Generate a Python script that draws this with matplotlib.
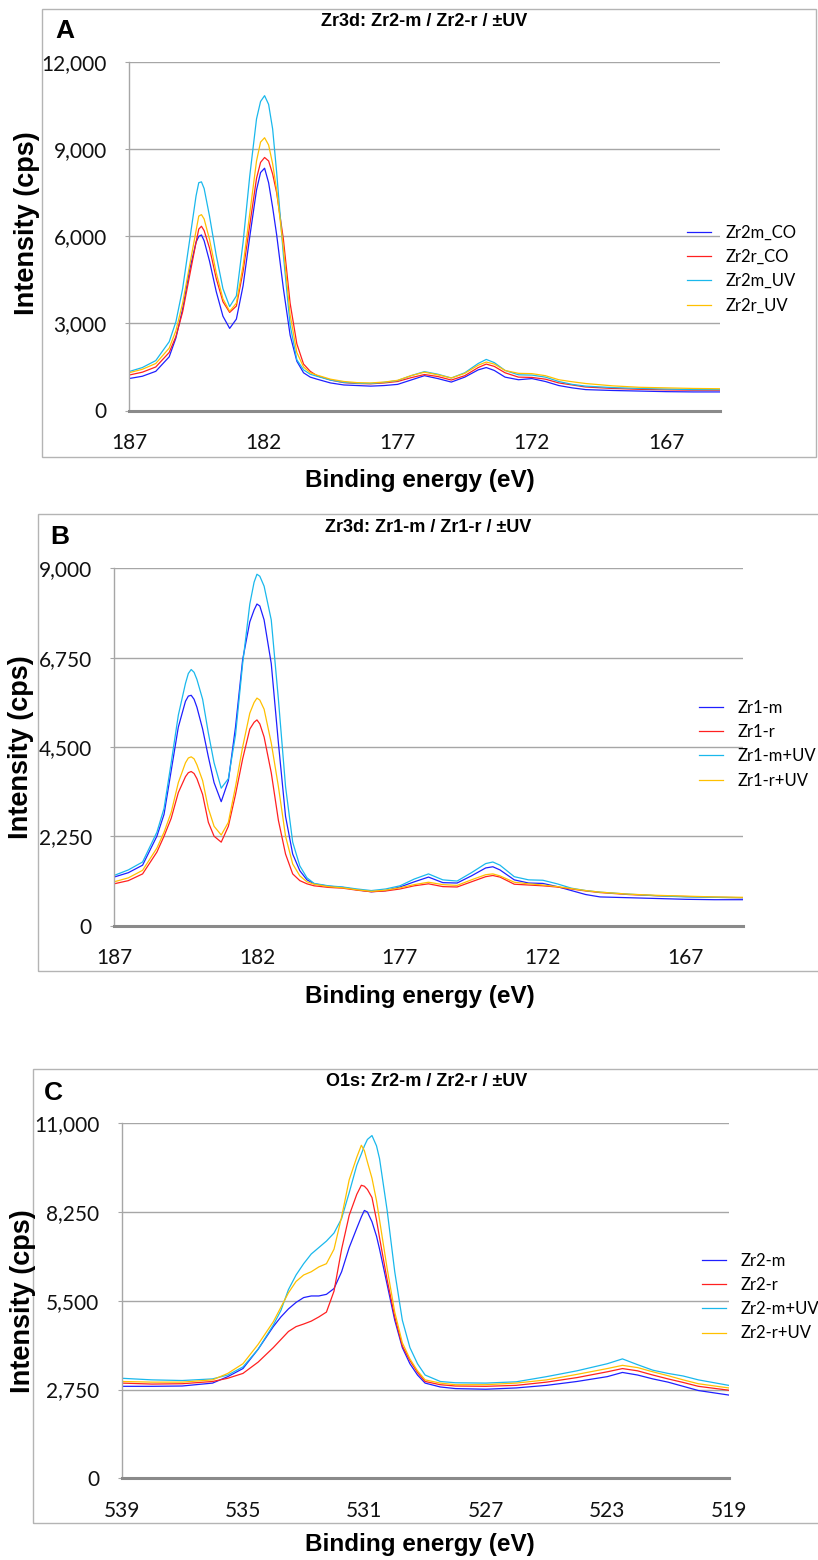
import matplotlib
matplotlib.use('Agg')
import matplotlib.pyplot as plt
from matplotlib import font_manager
from matplotlib.patches import Rectangle
from matplotlib.ticker import FuncFormatter

W, H = 818, 1560

names = {f.name for f in font_manager.fontManager.ttflist}
TICK_FONT = 'Lato' if 'Lato' in names else 'DejaVu Sans'
BOLD_FONT = 'Liberation Sans' if 'Liberation Sans' in names else 'DejaVu Sans'

BLUE = '#1f1fff'
RED = '#ff2020'
CYAN = '#1ab8ec'
YELLOW = '#ffc000'
GRID = '#a6a6a6'

# ── Panel A: Zr3d, Zr2-m / Zr2-r ──────────────────────────────────
energy_a = [187, 186.5, 186, 185.5, 185.25, 185, 184.75, 184.5, 184.4, 184.3, 184.2, 184,
            183.75, 183.5, 183.25, 183, 182.75, 182.5, 182.25, 182.1, 181.95, 181.8,
            181.65, 181.5, 181.25, 181, 180.75, 180.5, 180.25, 180, 179.5, 179, 178.5,
            178, 177.5, 177, 176.5, 176, 175.5, 175, 174.5, 174, 173.7, 173.4, 173,
            172.5, 172, 171.5, 171, 170.5, 170, 169, 168, 167, 166, 165]
zr2m_co = [1100, 1180, 1350, 1850, 2500, 3500, 4800, 5800, 6000, 6050, 5850, 5150,
           4100, 3250, 2830, 3150, 4300, 6000, 7600, 8200, 8350, 7850,
           7000, 6050, 4200, 2600, 1700, 1300, 1150, 1080, 950, 880, 860,
           840, 860, 900, 1050, 1200, 1100, 980, 1150, 1400, 1480, 1380, 1150,
           1060, 1100, 1000, 860, 780, 720, 690, 670, 650, 640, 640]
zr2r_co = [1220, 1320, 1500, 2000, 2550, 3400, 4600, 5800, 6250, 6350, 6200, 5600,
           4550, 3750, 3380, 3600, 4800, 6400, 8000, 8550, 8720, 8600,
           8150, 7500, 5900, 3700, 2300, 1600, 1350, 1200, 1050, 960, 930,
           920, 950, 1000, 1130, 1240, 1170, 1050, 1200, 1480, 1600, 1520, 1300,
           1150, 1140, 1080, 950, 880, 810, 760, 730, 710, 700, 700]
zr2m_uv = [1340, 1480, 1720, 2370, 3060, 4200, 5800, 7400, 7850, 7880, 7650, 6700,
           5350, 4200, 3580, 3950, 5800, 8100, 10050, 10650, 10850, 10550,
           9700, 8200, 5350, 2950, 1750, 1400, 1250, 1180, 1050, 970, 940,
           930, 970, 1030, 1200, 1340, 1250, 1120, 1300, 1620, 1760, 1650, 1380,
           1230, 1220, 1150, 1000, 900, 840, 790, 760, 740, 720, 720]
zr2r_uv = [1300, 1420, 1620, 2150, 2750, 3700, 4950, 6200, 6700, 6750, 6600, 5900,
           4750, 3850, 3420, 3700, 5000, 6800, 8600, 9250, 9400, 9150,
           8500, 7600, 5600, 3300, 2000, 1500, 1300, 1220, 1080, 1000, 960,
           950, 980, 1040, 1200, 1320, 1230, 1120, 1280, 1560, 1670, 1600, 1380,
           1280, 1270, 1200, 1060, 990, 930, 850, 800, 780, 760, 750]

# ── Panel B: Zr3d, Zr1-m / Zr1-r ──────────────────────────────────
energy_b = [187, 186.5, 186, 185.5, 185.25, 185, 184.75, 184.5, 184.4, 184.3, 184.2,
            184.1, 183.9, 183.7, 183.5, 183.25, 183, 182.75, 182.5, 182.25, 182.1,
            182, 181.9, 181.75, 181.5, 181.25, 181, 180.75, 180.5, 180.25, 180,
            179.5, 179, 178.5, 178, 177.5, 177, 176.5, 176, 175.5, 175, 174.5, 174,
            173.75, 173.5, 173, 172.5, 172, 171.5, 171, 170.5, 170, 169, 168, 167,
            166, 165]
zr1_m = [1220, 1330, 1520, 2250, 2800, 3900, 5000, 5650, 5780, 5800, 5700,
         5500, 4950, 4250, 3600, 3120, 3650, 5000, 6700, 7650, 7950,
         8100, 8050, 7700, 6600, 4600, 2750, 1800, 1380, 1150, 1050,
         990, 960, 900, 850, 880, 970, 1100, 1220, 1080, 1070, 1250, 1450,
         1480, 1400, 1150, 1070, 1060, 980, 880, 780, 720, 700, 680, 660,
         650, 650]
zr1_r = [1050, 1130, 1300, 1850, 2250, 2700, 3350, 3750, 3850, 3880, 3830,
         3700, 3300, 2600, 2250, 2100, 2500, 3300, 4200, 4950, 5120,
         5180, 5080, 4750, 3850, 2650, 1800, 1300, 1130, 1050, 1000,
         960, 940, 890, 850, 870, 920, 1000, 1050, 980, 970, 1100, 1230,
         1260, 1220, 1040, 1020, 1000, 970, 920, 870, 830, 780, 750, 730,
         710, 700]
zr1_m_uv = [1260, 1400, 1600, 2350, 2950, 4100, 5300, 6100, 6350, 6450, 6380,
            6200, 5700, 4850, 4100, 3460, 3700, 4800, 6600, 8100, 8650,
            8850, 8800, 8550, 7700, 5700, 3500, 2100, 1500, 1200, 1060,
            1000, 970, 920, 880, 920, 1000, 1170, 1300, 1150, 1120, 1330, 1560,
            1600, 1520, 1230, 1150, 1140, 1050, 940, 880, 840, 790, 750, 720,
            710, 700]
zr1_r_uv = [1100, 1200, 1390, 1950, 2350, 2850, 3600, 4100, 4220, 4250, 4200,
            4050, 3650, 2950, 2500, 2280, 2600, 3500, 4500, 5350, 5620,
            5730, 5680, 5450, 4600, 3500, 2250, 1550, 1250, 1100, 1040,
            980, 950, 900, 860, 890, 950, 1030, 1090, 1030, 1010, 1150, 1280,
            1300, 1250, 1090, 1050, 1020, 980, 930, 880, 840, 790, 760, 740,
            720, 710]

# ── Panel C: O1s, Zr2-m / Zr2-r ───────────────────────────────────
energy_c = [539, 538, 537, 536, 535.5, 535, 534.5, 534, 533.75, 533.5, 533.25, 533,
            532.75, 532.5, 532.25, 532, 531.75, 531.5, 531.25, 531.1, 531, 530.9,
            530.75, 530.6, 530.5, 530.25, 530, 529.75, 529.5, 529.25, 529, 528.5,
            528, 527, 526, 525, 524, 523, 522.5, 522, 521.5, 521, 520.5, 520, 519]
o_zr2_m = [2850, 2850, 2860, 2950, 3150, 3400, 4000, 4700, 5000, 5250, 5450, 5600,
           5650, 5650, 5700, 5880, 6400, 7150, 7750, 8100, 8300, 8250,
           7950, 7500, 7100, 6000, 4900, 4050, 3550, 3200, 2950, 2830,
           2780, 2760, 2800, 2880, 3000, 3150, 3280, 3200, 3080, 2980, 2850, 2720, 2580]
o_zr2_r = [2950, 2920, 2930, 3000, 3100, 3250, 3600, 4050, 4300, 4550, 4700, 4780,
           4870, 5000, 5150, 5800, 7100, 8150, 8800, 9080, 9050, 8950,
           8700, 8000, 7450, 6150, 5000, 4100, 3650, 3280, 3000, 2900,
           2860, 2850, 2880, 2980, 3120, 3300, 3400, 3330, 3200, 3080, 2970, 2850, 2730]
o_zr2_m_uv = [3100, 3050, 3030, 3080, 3200, 3450, 4000, 4750, 5200, 5850, 6300, 6650,
              6950, 7150, 7350, 7600, 8050, 8850, 9700, 10050, 10300, 10500,
              10620, 10300, 9900, 8300, 6400, 4900, 4050, 3550, 3200, 3000,
              2960, 2950, 2990, 3150, 3330, 3550, 3700, 3520, 3350, 3250, 3170, 3050, 2880]
o_zr2_r_uv = [3000, 2980, 2980, 3050, 3250, 3550, 4150, 4850, 5300, 5750, 6100, 6300,
              6400, 6550, 6650, 7100, 8100, 9250, 9950, 10320, 10150, 9800,
              9300, 8600, 8000, 6500, 5150, 4200, 3700, 3330, 3050, 2950,
              2900, 2900, 2950, 3050, 3220, 3400, 3500, 3430, 3300, 3180, 3050, 2930, 2800]

xticks_zr = [187, 182, 177, 172, 167]
xticks_o = [539, 535, 531, 527, 523, 519]

panels = [
    dict(letter='A', title='Zr3d: Zr2-m / Zr2-r / \u00b1UV',
         x=energy_a,
         series=[(zr2m_co, BLUE, 'Zr2m_CO'), (zr2r_co, RED, 'Zr2r_CO'),
                 (zr2m_uv, CYAN, 'Zr2m_UV'), (zr2r_uv, YELLOW, 'Zr2r_UV')],
         xlim=(187, 165), xticks=xticks_zr, ymax=12000, ystep=3000,
         ax_px=(128.9, 62.3, 720, 410.5), box=(42, 9, 816, 457),
         letter_xy=(65, 31), title_xy=(424, 21), ylab_xy=(27, 223), xlab_y=481,
         leg_xy=(687, 269)),
    dict(letter='B', title='Zr3d: Zr1-m / Zr1-r / \u00b1UV',
         x=energy_b,
         series=[(zr1_m, BLUE, 'Zr1-m'), (zr1_r, RED, 'Zr1-r'),
                 (zr1_m_uv, CYAN, 'Zr1-m+UV'), (zr1_r_uv, YELLOW, 'Zr1-r+UV')],
         xlim=(187, 165), xticks=xticks_zr, ymax=9000, ystep=2250,
         ax_px=(114, 568.3, 743, 925.5), box=(37.6, 514, 830, 971),
         letter_xy=(60, 537), title_xy=(428, 527), ylab_xy=(21, 747), xlab_y=997,
         leg_xy=(699, 744)),
    dict(letter='C', title='O1s: Zr2-m / Zr2-r / \u00b1UV',
         x=energy_c,
         series=[(o_zr2_m, BLUE, 'Zr2-m'), (o_zr2_r, RED, 'Zr2-r'),
                 (o_zr2_m_uv, CYAN, 'Zr2-m+UV'), (o_zr2_r_uv, YELLOW, 'Zr2-r+UV')],
         xlim=(539, 519), xticks=xticks_o, ymax=11000, ystep=2750,
         ax_px=(121.5, 1123.3, 728.7, 1478.3), box=(32.5, 1069, 830, 1523),
         letter_xy=(53, 1093), title_xy=(427, 1082), ylab_xy=(23, 1301), xlab_y=1545,
         leg_xy=(702, 1297)),
]


def fx(x):
    return x / W


def fy(y):
    return 1 - y / H


fig = plt.figure(figsize=(W / 100, H / 100), dpi=100, facecolor='white')

for p in panels:
    x0, y0, x1, y1 = p['box']
    fig.patches.append(Rectangle((fx(x0), fy(y1)), fx(x1 - x0), (y1 - y0) / H,
                                 transform=fig.transFigure, fill=False,
                                 edgecolor='#b4b4b4', linewidth=1.0))

    l, t, r, b = p['ax_px']
    ax = fig.add_axes([fx(l), fy(b), fx(r - l), (b - t) / H])
    for vals, col, lab in p['series']:
        ax.plot(p['x'], vals, color=col, linewidth=0.9, label=lab)

    ax.set_xlim(*p['xlim'])
    ax.set_ylim(0, p['ymax'])
    ax.set_xticks(p['xticks'])
    ax.set_yticks(list(range(0, p['ymax'] + 1, p['ystep'])))
    ax.yaxis.set_major_formatter(FuncFormatter(lambda v, _: f'{v:,.0f}'))
    ax.grid(axis='y', color=GRID, linewidth=1.0)
    ax.set_axisbelow(True)
    for s in ['top', 'right']:
        ax.spines[s].set_visible(False)
    ax.spines['left'].set_color(GRID)
    ax.spines['left'].set_linewidth(1.0)
    ax.spines['bottom'].set_color('#8a8a8a')
    ax.spines['bottom'].set_linewidth(2.2)
    ax.tick_params(axis='y', length=3, color=GRID, pad=13)
    ax.tick_params(axis='x', length=0, pad=16)
    for lbl in ax.get_xticklabels() + ax.get_yticklabels():
        lbl.set_fontfamily(TICK_FONT)
        lbl.set_fontsize(15)
        lbl.set_color('#111111')

    lx, ly = p['leg_xy']
    ax.legend(loc='center left', bbox_to_anchor=(fx(lx), fy(ly)),
              bbox_transform=fig.transFigure, frameon=False, borderpad=0,
              borderaxespad=0, handlelength=1.45, handletextpad=0.85,
              labelspacing=0.5, prop={'family': TICK_FONT, 'size': 12})

    fig.text(fx(p['letter_xy'][0]), fy(p['letter_xy'][1]), p['letter'],
             family=BOLD_FONT, weight='bold', fontsize=19, ha='center', va='center')
    fig.text(fx(p['title_xy'][0]), fy(p['title_xy'][1]), p['title'],
             family=BOLD_FONT, weight='bold', fontsize=13,
             ha='center', va='center')
    fig.text(fx(p['ylab_xy'][0]), fy(p['ylab_xy'][1]), 'Intensity (cps)',
             family=BOLD_FONT, weight='bold', fontsize=19.5, rotation=90,
             ha='center', va='center')
    fig.text(fx(420), fy(p['xlab_y']), 'Binding energy (eV)',
             family=BOLD_FONT, weight='bold', fontsize=17.5, ha='center', va='center')

fig.savefig('out.png', dpi=100, facecolor='white')
